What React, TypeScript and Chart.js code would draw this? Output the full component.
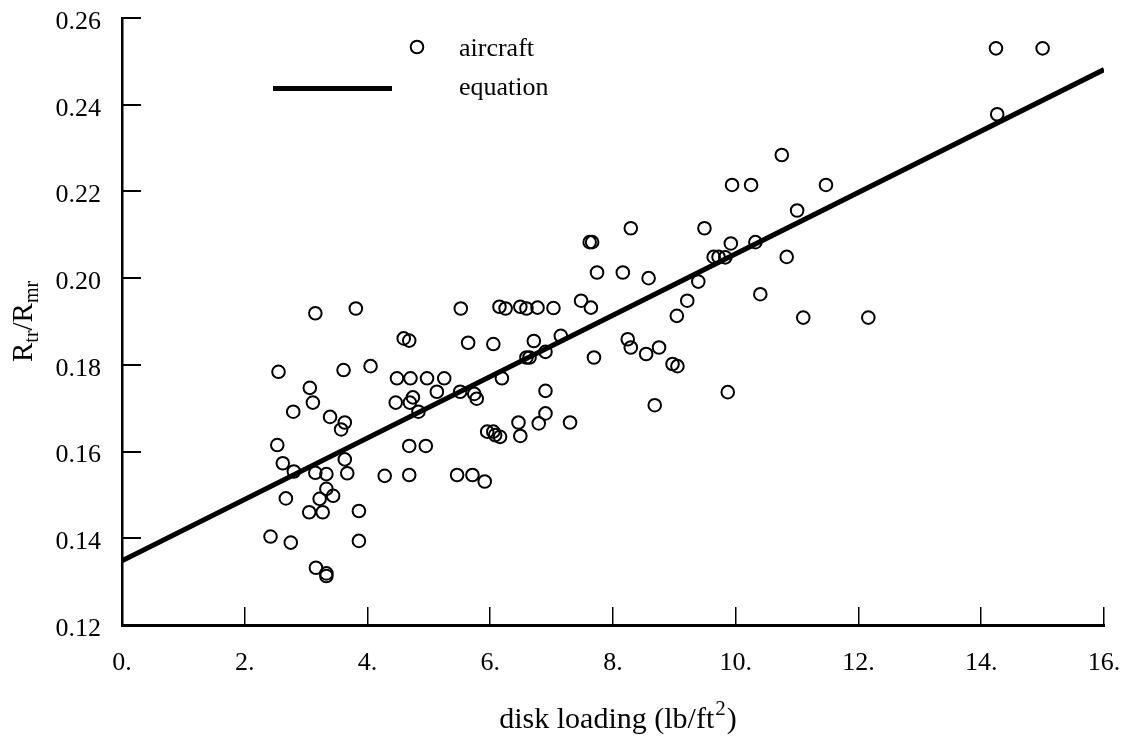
import React, { useEffect, useRef } from "react";
import { Chart, registerables } from "chart.js";

Chart.register(...registerables);

const FONT = "'Liberation Serif', 'Times New Roman', serif";

// aircraft data: disk loading (lb/ft^2) vs. tail rotor / main rotor radius ratio
const diskLoading = [
  3.15, 3.81, 5.52, 4.59, 4.68, 5.64, 2.55, 3.61, 4.05, 4.48,
  4.70, 4.97, 5.25, 3.06, 3.11, 2.79, 3.39, 3.63, 3.57, 4.46,
  4.69, 4.74, 5.13, 5.51, 4.83, 2.53, 2.62, 2.80, 3.15, 3.33,
  3.63, 3.67, 4.28, 4.68, 4.95, 4.68, 5.46, 2.67, 3.33, 3.22,
  3.44, 3.05, 3.27, 3.86, 2.42, 2.75, 3.86, 3.16, 3.33, 3.33,
  6.15, 6.25, 6.49, 6.59, 6.77, 7.03, 7.48, 7.64, 9.21, 9.04,
  6.05, 6.71, 7.15, 6.59, 6.64, 6.90, 7.69, 8.24, 8.29, 8.54,
  8.75, 8.97, 9.05, 5.74, 5.78, 6.19, 6.90, 6.90, 6.79, 6.46,
  6.49, 7.30, 5.95, 6.05, 6.08, 6.16, 5.71, 5.91, 8.68,
  10.75, 9.94, 10.25, 11.47, 11.00, 8.29, 9.49, 7.62, 7.66, 9.92,
  10.32, 9.64, 9.72, 9.83, 10.83, 7.74, 8.16, 8.58, 9.39, 10.40,
  11.10, 9.87, 14.24, 15.00, 14.26, 12.16,
];
const radiusRatio = [
  0.1919, 0.1930, 0.1930, 0.1861, 0.1856, 0.1851, 0.1784, 0.1788, 0.1797, 0.1769,
  0.1769, 0.1769, 0.1769, 0.1747, 0.1713, 0.1692, 0.1680, 0.1667, 0.1651, 0.1713,
  0.1713, 0.1725, 0.1738, 0.1738, 0.1692, 0.1615, 0.1573, 0.1554, 0.1551, 0.1548,
  0.1582, 0.1550, 0.1544, 0.1613, 0.1613, 0.1546, 0.1546, 0.1492, 0.1514, 0.1491,
  0.1498, 0.1460, 0.1460, 0.1463, 0.1404, 0.1390, 0.1394, 0.1332, 0.1319, 0.1313,
  0.1934, 0.1930, 0.1934, 0.1930, 0.1932, 0.1931, 0.1948, 0.1932, 0.1948, 0.1913,
  0.1848, 0.1855, 0.1867, 0.1817, 0.1817, 0.1830, 0.1817, 0.1859, 0.1840, 0.1825,
  0.1840, 0.1802, 0.1797, 0.1733, 0.1722, 0.1769, 0.1740, 0.1688, 0.1665, 0.1667,
  0.1636, 0.1667, 0.1646, 0.1646, 0.1638, 0.1634, 0.1546, 0.1531, 0.1707,
  0.2284, 0.2215, 0.2215, 0.2215, 0.2156, 0.2115, 0.2115, 0.2083, 0.2083, 0.2080,
  0.2083, 0.2049, 0.2049, 0.2048, 0.2049, 0.2013, 0.2013, 0.2000, 0.1992, 0.1963,
  0.1909, 0.1737, 0.2530, 0.2530, 0.2378, 0.1909,
];

// fitted equation line
const equationLoading = [0, 16];
const equationRatio = [0.1348, 0.2481];

const xTickValues = [0, 2, 4, 6, 8, 10, 12, 14, 16];
const xTickLabels = ["0.", "2.", "4.", "6.", "8.", "10.", "12.", "14.", "16."];
const yTickValues = [0.12, 0.14, 0.16, 0.18, 0.2, 0.22, 0.24, 0.26];
const yTickLabels = ["0.12", "0.14", "0.16", "0.18", "0.20", "0.22", "0.24", "0.26"];

const legendLabels = ["aircraft", "equation"];
const xTitleParts = ["disk loading (lb/ft", "2", ")"];
const yTitleParts = [["R", "tr"], ["/R", "mr"]];

const decorPlugin = {
  id: "decor",
  afterDatasetsDraw(chart: any) {
    const { ctx, chartArea, scales } = chart;
    const xs = scales.x;
    const ys = scales.y;
    ctx.save();
    ctx.strokeStyle = "#000";
    ctx.fillStyle = "#000";
    ctx.lineCap = "butt";

    // inward tick marks
    ctx.lineWidth = 1.5;
    xTickValues.forEach((v) => {
      const px = Math.round(xs.getPixelForValue(v)) - 0.25;
      ctx.beginPath();
      ctx.moveTo(px, chartArea.bottom);
      ctx.lineTo(px, chartArea.bottom - 18);
      ctx.stroke();
    });
    ctx.lineWidth = 2;
    yTickValues.forEach((v) => {
      const py = Math.round(ys.getPixelForValue(v));
      ctx.beginPath();
      ctx.moveTo(chartArea.left, py);
      ctx.lineTo(chartArea.left + 19, py);
      ctx.stroke();
    });

    // legend
    ctx.font = `26px ${FONT}`;
    ctx.textBaseline = "alphabetic";
    ctx.textAlign = "left";
    ctx.lineWidth = 2;
    ctx.beginPath();
    ctx.arc(417, 47, 6.3, 0, Math.PI * 2);
    ctx.stroke();
    ctx.fillText(legendLabels[0], 459, 56);
    ctx.lineWidth = 5;
    ctx.beginPath();
    ctx.moveTo(273, 88.5);
    ctx.lineTo(392, 88.5);
    ctx.stroke();
    ctx.fillText(legendLabels[1], 459, 95);

    // x axis title with superscript
    const xMain = `30px ${FONT}`;
    const xSup = `21px ${FONT}`;
    ctx.font = xMain;
    const w0 = ctx.measureText(xTitleParts[0]).width;
    const w2 = ctx.measureText(xTitleParts[2]).width;
    ctx.font = xSup;
    const w1 = ctx.measureText(xTitleParts[1]).width;
    const total = w0 + w1 + w2 + 2;
    const cx = 618;
    let x = cx - total / 2;
    const by = 728;
    ctx.font = xMain;
    ctx.fillText(xTitleParts[0], x, by);
    x += w0;
    ctx.font = xSup;
    ctx.fillText(xTitleParts[1], x + 1, by - 13);
    x += w1 + 2;
    ctx.font = xMain;
    ctx.fillText(xTitleParts[2], x, by);

    // y axis title with subscripts (rotated)
    const yMain = `29px ${FONT}`;
    const ySub = `20px ${FONT}`;
    ctx.translate(32, 362);
    ctx.rotate(-Math.PI / 2);
    let tx = 0;
    yTitleParts.forEach(([main, sub]) => {
      ctx.font = yMain;
      ctx.fillText(main, tx, 0);
      tx += ctx.measureText(main).width;
      ctx.font = ySub;
      ctx.fillText(sub, tx, 6);
      tx += ctx.measureText(sub).width;
    });

    ctx.restore();
  },
};

export default function App() {
  const canvasRef = useRef<HTMLCanvasElement | null>(null);

  useEffect(() => {
    if (!canvasRef.current) return;
    const points = diskLoading.map((x, i) => ({ x, y: radiusRatio[i] }));
    const eqPoints = equationLoading.map((x, i) => ({ x, y: equationRatio[i] }));

    const chart = new Chart(canvasRef.current, {
      type: "scatter",
      data: {
        datasets: [
          {
            label: legendLabels[0],
            data: points,
            pointStyle: "circle",
            pointRadius: 6.3,
            pointHoverRadius: 6.3,
            borderWidth: 2,
            borderColor: "#000",
            backgroundColor: "rgba(0,0,0,0)",
            showLine: false,
          },
          {
            label: legendLabels[1],
            data: eqPoints,
            showLine: true,
            borderColor: "#000",
            borderWidth: 5,
            pointRadius: 0,
            pointHoverRadius: 0,
            fill: false,
            tension: 0,
          },
        ],
      },
      plugins: [decorPlugin],
      options: {
        responsive: false,
        animation: false,
        devicePixelRatio: 1,
        events: [],
        layout: { padding: { top: 18, right: 21, left: 0, bottom: 0 } },
        plugins: {
          legend: { display: false },
          tooltip: { enabled: false },
          title: { display: false },
        },
        scales: {
          x: {
            type: "linear",
            position: "bottom",
            min: 0,
            max: 16,
            afterBuildTicks: (scale: any) => {
              scale.ticks = xTickValues.map((v) => ({ value: v }));
            },
            afterFit: (scale: any) => {
              scale.height = 111;
              scale.paddingLeft = 0;
              scale.paddingRight = 0;
            },
            grid: { display: false, drawTicks: false },
            border: { display: true, color: "#000", width: 3 },
            ticks: {
              autoSkip: false,
              maxRotation: 0,
              minRotation: 0,
              padding: 23,
              color: "#000",
              font: { family: FONT, size: 26 },
              callback: (_v: any, i: number) => xTickLabels[i],
            },
          },
          y: {
            type: "linear",
            position: "left",
            min: 0.12,
            max: 0.26,
            afterBuildTicks: (scale: any) => {
              scale.ticks = yTickValues.map((v) => ({ value: v }));
            },
            afterFit: (scale: any) => {
              scale.width = 122;
              scale.paddingTop = 0;
              scale.paddingBottom = 0;
            },
            grid: { display: false, drawTicks: false },
            border: { display: true, color: "#000", width: 2.5 },
            ticks: {
              autoSkip: false,
              padding: 21,
              labelOffset: 4,
              color: "#000",
              font: { family: FONT, size: 26 },
              callback: (_v: any, i: number) => yTickLabels[i],
            },
          },
        },
      },
    } as any);

    return () => chart.destroy();
  }, []);

  return (
    <div
      style={{
        position: "fixed",
        left: 0,
        top: 0,
        width: 1125,
        height: 736,
        background: "#fff",
      }}
    >
      <canvas
        ref={canvasRef}
        width={1125}
        height={736}
        style={{ display: "block", width: 1125, height: 736 }}
      />
    </div>
  );
}
